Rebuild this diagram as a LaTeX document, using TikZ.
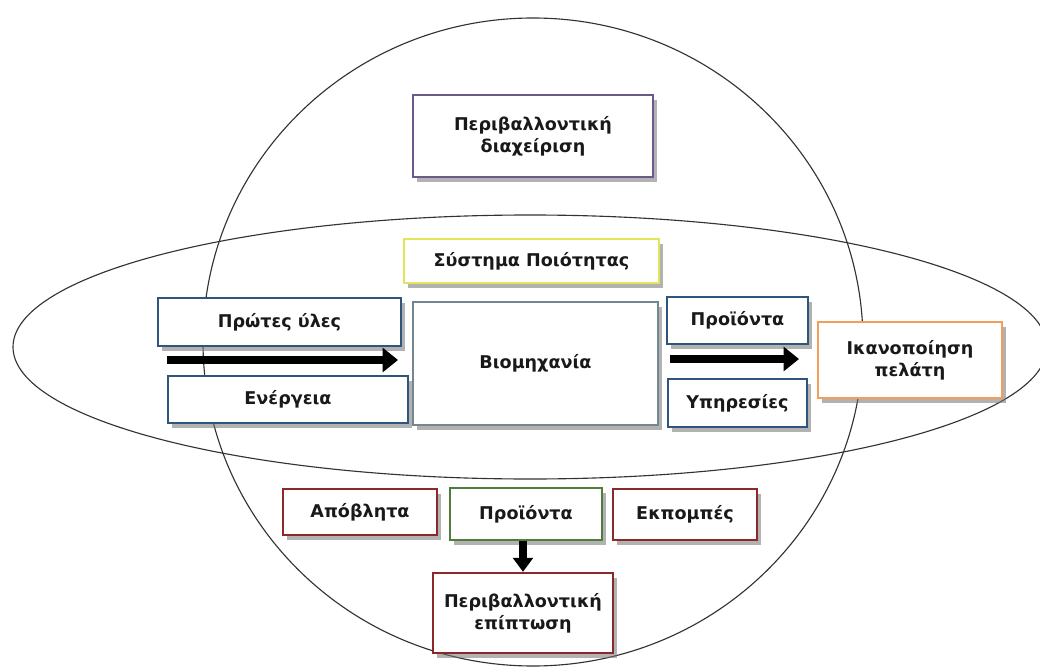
\documentclass[tikz,border=0pt]{standalone}
\usepackage{fontspec}
\setmainfont{DejaVu Sans}
\usetikzlibrary{shadows,arrows.meta}
\definecolor{cpurple}{RGB}{105,90,135}
\definecolor{cyellow}{RGB}{228,228,90}
\definecolor{cgray}{RGB}{115,135,145}
\definecolor{cblue}{RGB}{45,85,125}
\definecolor{corange}{RGB}{240,160,90}
\definecolor{cred}{RGB}{140,40,40}
\definecolor{cgreen}{RGB}{80,125,60}
\definecolor{ctext}{RGB}{25,25,25}
\begin{document}
\begin{tikzpicture}[x=0.025cm,y=-0.025cm,
  box/.style={draw, fill=white, line width=1.6pt, align=center,
    font=\bfseries\fontsize{12.5}{15.5}\selectfont, text=ctext, inner sep=0pt,
    drop shadow={shadow xshift=3pt, shadow yshift=-3.5pt, fill=black!55, opacity=0.55}},
  orbit/.style={draw=black!80, line width=0.8pt},
  bigarrow/.style={line width=6pt, -{Triangle[length=11pt,width=17pt]}},
  downarrow/.style={line width=5pt, -{Triangle[length=10pt,width=14pt]}}
]
\useasboundingbox (0,0) rectangle (1040,670);
\clip (0,0) rectangle (1040,670);
\fill[white] (0,0) rectangle (1040,670);

% orbits
\draw[orbit] (533,342) ellipse [x radius=330, y radius=324];
\draw[orbit] (530,347) ellipse [x radius=517, y radius=132];

% boxes
\node[box, draw=cpurple, line width=1.8pt, minimum width=6cm, minimum height=2.05cm] (env) at (533,136) {Περιβαλλοντική\\διαχείριση};
\node[box, draw=cyellow, minimum width=6.375cm, minimum height=1.1cm] (qual) at (531.5,261) {Σύστημα Ποιότητας};
\node[box, draw=cgray, line width=1pt, minimum width=6.125cm, minimum height=3.075cm] (ind) at (535.5,363.5) {Βιομηχανία};
\node[box, draw=cblue, minimum width=6.075cm, minimum height=1.2cm] (raw) at (279.5,322) {Πρώτες ύλες};
\node[box, draw=cblue, minimum width=6cm, minimum height=1.175cm] (energy) at (288,399.5) {Ενέργεια};
\node[box, draw=cblue, minimum width=3.525cm, minimum height=1.175cm] (prodr) at (737.5,320.5) {Προϊόντα};
\node[box, draw=cblue, minimum width=3.475cm, minimum height=1.2cm] (serv) at (737.5,403) {Υπηρεσίες};
\node[box, draw=corange, minimum width=4.6cm, minimum height=1.9cm] (sat) at (910,360) {Ικανοποίηση\\πελάτη};
\node[box, draw=cred, minimum width=3.85cm, minimum height=1.15cm] (waste) at (360,512) {Απόβλητα};
\node[box, draw=cgreen, minimum width=3.8cm, minimum height=1.3cm] (prodg) at (526,514) {Προϊόντα};
\node[box, draw=cred, minimum width=3.6cm, minimum height=1.275cm] (emis) at (685,514.5) {Εκπομπές};
\node[box, draw=cred, minimum width=4.5cm, minimum height=2cm] (impact) at (523,613) {Περιβαλλοντική\\επίπτωση};

% arrows
\coordinate (inA) at (167,360);
\coordinate (inB) at (398,360);
\coordinate (outA) at (670,359);
\coordinate (outB) at (799,359);
\draw[bigarrow] (inA) -- (inB);
\draw[bigarrow] (outA) -- (outB);
\draw[downarrow] (prodg.south -| impact.north) -- (impact.north);
\end{tikzpicture}
\end{document}
